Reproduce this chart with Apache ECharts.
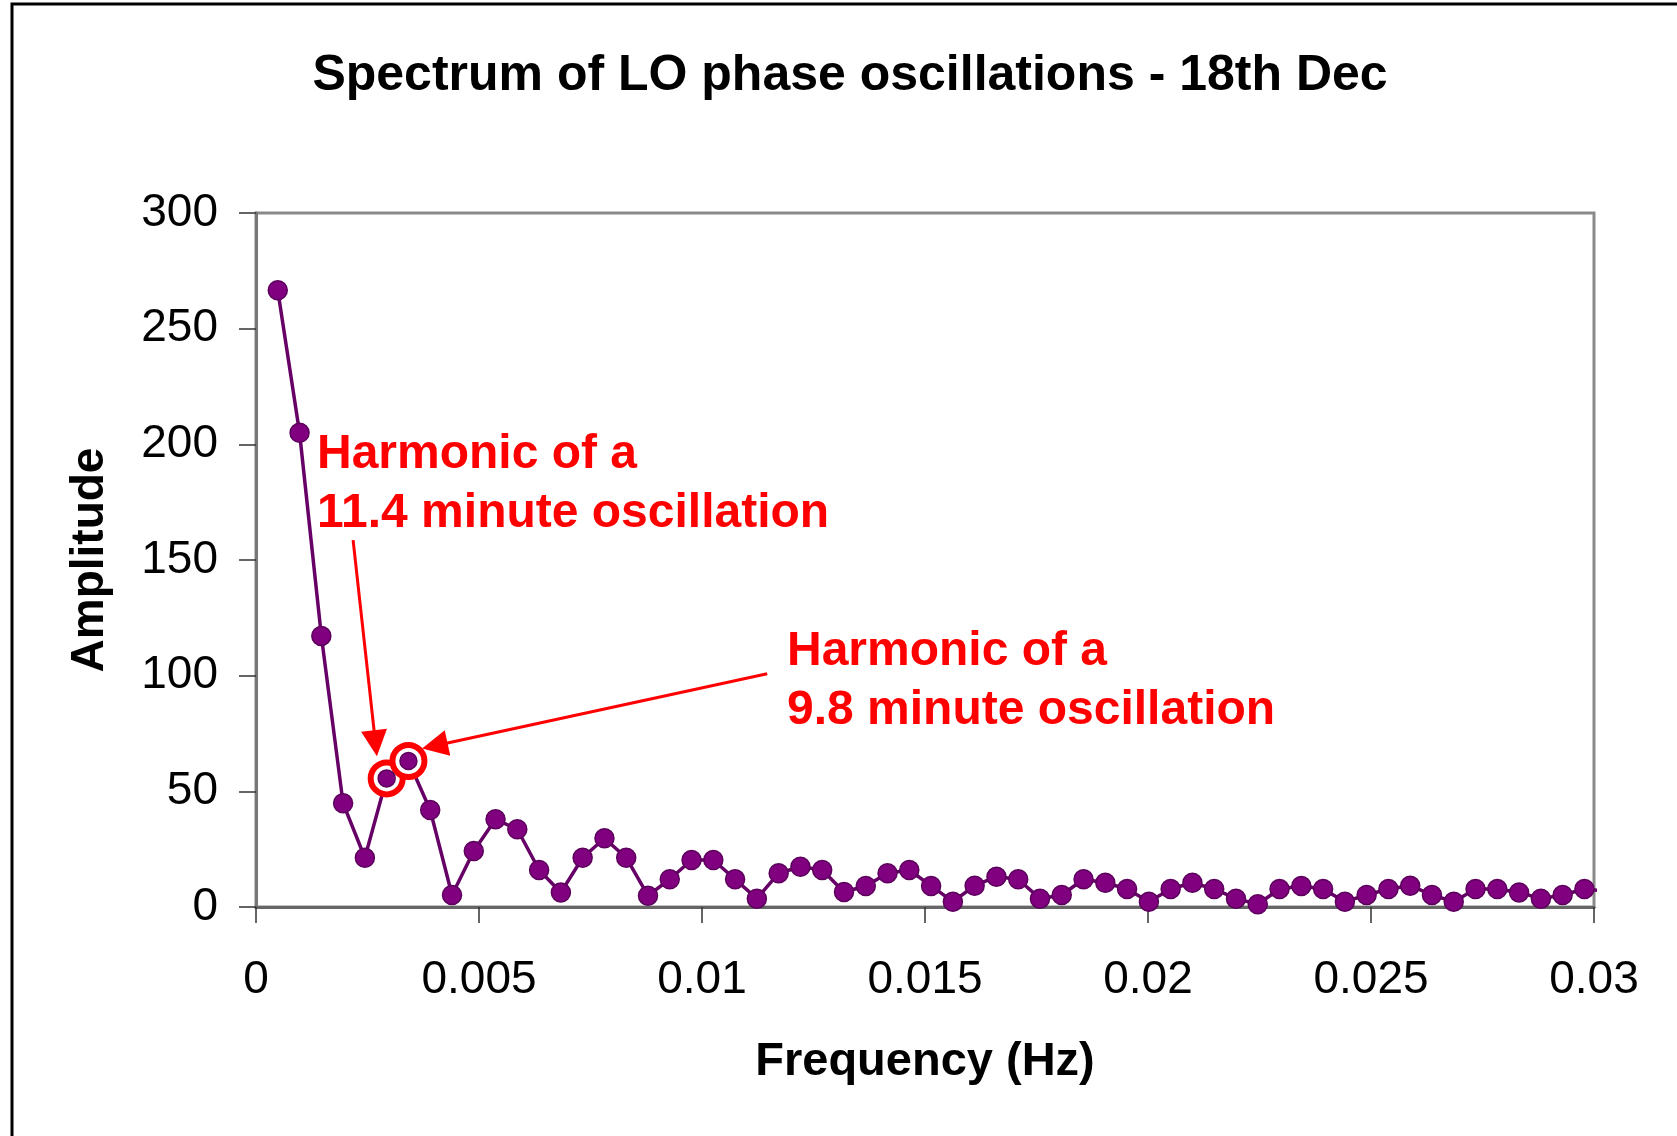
<!DOCTYPE html>
<html>
<head>
<meta charset="utf-8">
<script src="https://cdn.jsdelivr.net/npm/echarts@6/dist/echarts.min.js"></script>
<style>
  html, body { margin: 0; padding: 0; background: #fff; }
  #chart { width: 1677px; height: 1136px; }
</style>
</head>
<body>
<div id="chart"></div>
<script>
// frequency bins (Hz)
const freq = [
  0.000488, 0.000977, 0.001465, 0.001953, 0.002441, 0.002930, 0.003418, 0.003906,
  0.004395, 0.004883, 0.005371, 0.005859, 0.006348, 0.006836, 0.007324, 0.007813,
  0.008301, 0.008789, 0.009277, 0.009766, 0.010254, 0.010742, 0.011230, 0.011719,
  0.012207, 0.012695, 0.013184, 0.013672, 0.014160, 0.014648, 0.015137, 0.015625,
  0.016113, 0.016602, 0.017090, 0.017578, 0.018066, 0.018555, 0.019043, 0.019531,
  0.020020, 0.020508, 0.020996, 0.021484, 0.021973, 0.022461, 0.022949, 0.023438,
  0.023926, 0.024414, 0.024902, 0.025391, 0.025879, 0.026367, 0.026855, 0.027344,
  0.027832, 0.028320, 0.028809, 0.029297, 0.029785, 0.030273
];
// amplitude
const amplitude = [
  266.6, 205.0, 117.2, 44.8, 21.3, 55.6, 63.1, 41.9,
  5.2, 24.2, 37.9, 33.6, 16.0, 6.3, 21.3, 29.7,
  21.3, 4.9, 12.0, 20.3, 20.3, 12.0, 3.6, 14.6,
  17.4, 16.0, 6.5, 9.1, 14.6, 16.0, 9.1, 2.3,
  9.2, 13.1, 12.0, 3.6, 5.2, 12.0, 10.5, 7.8,
  2.3, 7.8, 10.5, 7.8, 3.6, 1.2, 7.8, 9.1,
  7.8, 2.3, 5.2, 7.8, 9.2, 5.2, 2.3, 7.8,
  7.8, 6.3, 3.6, 5.2, 7.8, 6.9
];
// the two circled harmonics (indexes into the arrays above)
const circled = [5, 6];

const xTickLabels = ['0', '0.005', '0.01', '0.015', '0.02', '0.025', '0.03'];
const yTickLabels = ['0', '50', '100', '150', '200', '250', '300'];

const titleText = 'Spectrum of LO phase oscillations - 18th Dec';
const note1 = 'Harmonic of a\n11.4 minute oscillation';
const note2 = 'Harmonic of a\n9.8 minute oscillation';

// arrow start / end in data units
const arrow1 = [[0.002177, 158.6], [0.002679, 70.8]];
const arrow2 = [[0.011462, 100.8], [0.004009, 69.7]];

const FONT = "'Liberation Sans', Arial, sans-serif";

const points = freq.map((f, i) => [f, amplitude[i]]);
const circledPts = circled.map(i => [freq[i], amplitude[i]]);

const chart = echarts.init(document.getElementById('chart'), null, { renderer: 'canvas' });

const purple = {
  color: '#800080',
  borderColor: '#5c005c',
  borderWidth: 1.5,
  opacity: 1
};

const option = {
  animation: false,
  backgroundColor: '#fff',
  grid: {
    left: 256, right: 83, top: 213, bottom: 229,
    show: true,
    borderColor: '#8a8a8a',
    borderWidth: 3,
    backgroundColor: 'transparent'
  },
  xAxis: {
    type: 'value',
    min: 0, max: 0.03, interval: 0.005,
    name: 'Frequency (Hz)',
    nameLocation: 'middle',
    nameGap: 132,
    nameTextStyle: { fontFamily: FONT, fontSize: 47, fontWeight: 'bold', color: '#000' },
    axisLine: { show: true, onZero: false, lineStyle: { color: '#666', width: 3 } },
    axisTick: { show: true, inside: false, length: 16, lineStyle: { color: '#333', width: 1.5 } },
    axisLabel: {
      margin: 50,
      fontFamily: FONT, fontSize: 46, color: '#000',
      formatter: (v, i) => xTickLabels[i]
    },
    splitLine: { show: false }
  },
  yAxis: {
    type: 'value',
    min: 0, max: 300, interval: 50,
    name: 'Amplitude',
    nameLocation: 'middle',
    nameRotate: 90,
    nameGap: 143,
    nameTextStyle: { fontFamily: FONT, fontSize: 46, fontWeight: 'bold', color: '#000' },
    axisLine: { show: true, lineStyle: { color: '#777', width: 3 } },
    axisTick: { show: true, inside: false, length: 17, lineStyle: { color: '#333', width: 1.5 } },
    axisLabel: {
      margin: 38,
      fontFamily: FONT, fontSize: 46, color: '#000',
      formatter: (v, i) => yTickLabels[i]
    },
    splitLine: { show: false }
  },
  series: [
    {
      type: 'line',
      data: points,
      clip: false,
      symbol: (val, params) => (params.dataIndex === points.length - 1 ? 'none' : 'circle'),
      symbolSize: 19,
      lineStyle: { color: '#660066', width: 3.5 },
      itemStyle: purple,
      z: 2
    },
    {
      // red rings round the two harmonics, and the arrows pointing at them
      type: 'scatter',
      data: circledPts,
      symbol: 'circle',
      symbolSize: 32,
      itemStyle: { color: '#fff', borderColor: '#ff0000', borderWidth: 6, opacity: 1 },
      z: 3,
      markLine: {
        silent: true,
        symbol: ['none', 'triangle'],
        symbolSize: 26,
        label: { show: false },
        lineStyle: { color: '#ff0000', width: 3, type: 'solid', opacity: 1 },
        data: [
          [{ coord: arrow1[0] }, { coord: arrow1[1] }],
          [{ coord: arrow2[0] }, { coord: arrow2[1] }]
        ]
      }
    },
    {
      type: 'scatter',
      data: circledPts,
      symbol: 'circle',
      symbolSize: 17,
      itemStyle: purple,
      z: 4
    }
  ],
  graphic: [
    {
      type: 'rect',
      shape: { x: 12, y: 4, width: 2000, height: 2000 },
      style: { fill: 'none', stroke: '#000', lineWidth: 3 },
      silent: true
    },
    {
      type: 'text',
      x: 850, y: 51,
      style: {
        text: titleText,
        font: 'bold 50px ' + FONT,
        fill: '#000',
        align: 'center',
        verticalAlign: 'top'
      }
    },
    {
      type: 'text',
      x: 317, y: 425,
      style: {
        text: note1,
        font: 'bold 48px ' + FONT,
        lineHeight: 59,
        fill: '#ff0000',
        align: 'left',
        verticalAlign: 'top'
      }
    },
    {
      type: 'text',
      x: 787, y: 622,
      style: {
        text: note2,
        font: 'bold 48px ' + FONT,
        lineHeight: 59,
        fill: '#ff0000',
        align: 'left',
        verticalAlign: 'top'
      }
    }
  ]
};

chart.setOption(option);
</script>
</body>
</html>
